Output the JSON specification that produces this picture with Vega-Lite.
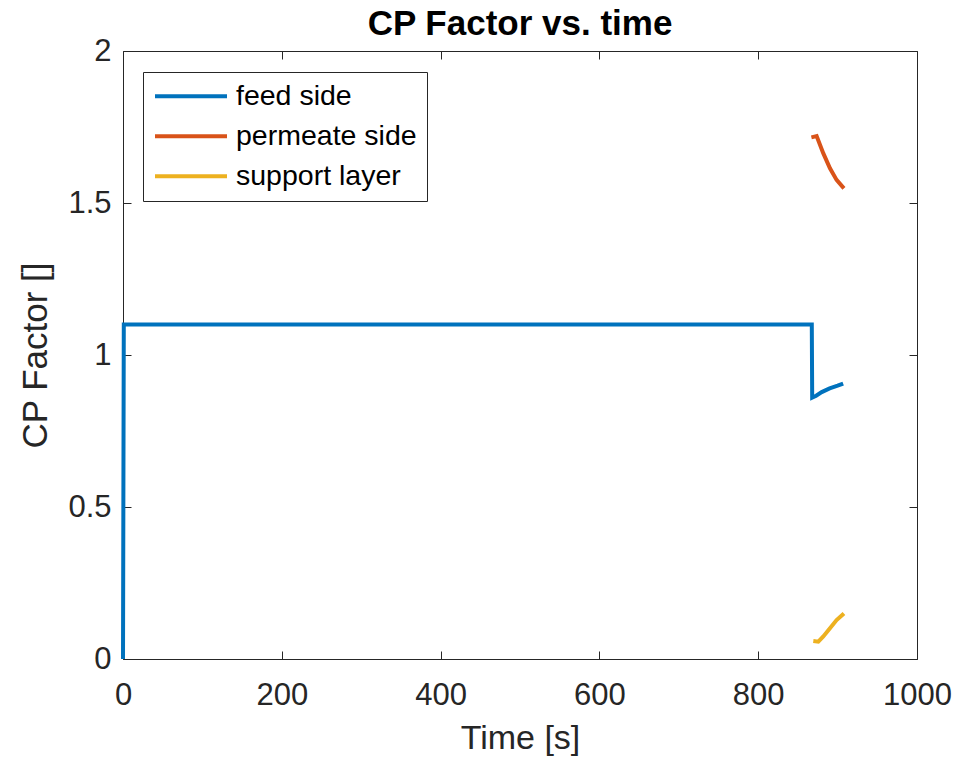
{
  "$schema": "https://vega.github.io/schema/vega-lite/v6.json",
  "width": 794,
  "height": 608,
  "autosize": {"type": "none"},
  "padding": {"left": 123, "top": 51, "right": 45, "bottom": 105},
  "background": "white",
  "title": {"text": "CP Factor vs. time", "font": "Liberation Sans", "fontSize": 35, "fontWeight": "bold", "color": "#000000", "offset": -7, "anchor": "middle"},
  "config": {
    "view": {"stroke": null},
    "font": "Liberation Sans"
  },
  "data": {
    "values": [
      {"series": "feed side", "t": 0, "v": 0, "o": 1},
      {"series": "feed side", "t": 1, "v": 1.1, "o": 2},
      {"series": "feed side", "t": 867.5, "v": 1.1, "o": 3},
      {"series": "feed side", "t": 868, "v": 0.86, "o": 4},
      {"series": "feed side", "t": 873, "v": 0.866, "o": 5},
      {"series": "feed side", "t": 880, "v": 0.878, "o": 6},
      {"series": "feed side", "t": 890, "v": 0.89, "o": 7},
      {"series": "feed side", "t": 900, "v": 0.899, "o": 8},
      {"series": "feed side", "t": 907, "v": 0.906, "o": 9},
      {"series": "permeate side", "t": 867, "v": 1.716, "o": 1},
      {"series": "permeate side", "t": 873.6, "v": 1.72, "o": 2},
      {"series": "permeate side", "t": 881.9, "v": 1.664, "o": 3},
      {"series": "permeate side", "t": 890.4, "v": 1.614, "o": 4},
      {"series": "permeate side", "t": 898.7, "v": 1.576, "o": 5},
      {"series": "permeate side", "t": 908, "v": 1.548, "o": 6},
      {"series": "support layer", "t": 869.4, "v": 0.059, "o": 1},
      {"series": "support layer", "t": 875.7, "v": 0.057, "o": 2},
      {"series": "support layer", "t": 882, "v": 0.074, "o": 3},
      {"series": "support layer", "t": 890.4, "v": 0.101, "o": 4},
      {"series": "support layer", "t": 898.7, "v": 0.128, "o": 5},
      {"series": "support layer", "t": 908, "v": 0.15, "o": 6}
    ]
  },
  "resolve": {"axis": {"x": "independent", "y": "independent"}},
  "layer": [
    {
      "mark": {"type": "line", "strokeWidth": 4, "strokeJoin": "miter", "clip": false},
      "encoding": {
        "x": {"field": "t", "type": "quantitative", "scale": {"domain": [0, 1000], "nice": false, "zero": false},
          "axis": {"orient": "bottom", "values": [0, 200, 400, 600, 800, 1000], "format": "d", "title": "Time [s]", "grid": false,
            "domainColor": "#262626", "tickColor": "#262626", "tickSize": -8, "labelPadding": 29,
            "labelFontSize": 31, "labelColor": "#262626", "labelFont": "Liberation Sans", "labelFlush": false,
            "titleFontSize": 34, "titleFontWeight": "normal", "titleColor": "#262626", "titleFont": "Liberation Sans", "titlePadding": 11}},
        "y": {"field": "v", "type": "quantitative", "scale": {"domain": [0, 2], "nice": false, "zero": false},
          "axis": {"orient": "left", "values": [0, 0.5, 1, 1.5, 2], "format": "~g", "title": "CP Factor []", "grid": false,
            "domainColor": "#262626", "tickColor": "#262626", "tickSize": -8, "labelPadding": 20,
            "labelFontSize": 31, "labelColor": "#262626", "labelFont": "Liberation Sans", "labelFlush": false,
            "titleFontSize": 35, "titleFontWeight": "normal", "titleColor": "#262626", "titleFont": "Liberation Sans", "titlePadding": 14}},
        "color": {"field": "series", "type": "nominal",
          "scale": {"domain": ["feed side", "permeate side", "support layer"], "range": ["#0072BD", "#D95319", "#EDB120"]},
          "legend": {"title": null, "orient": "none", "legendX": 20, "legendY": 21, "symbolType": "stroke", "symbolSize": 5184,
            "symbolStrokeWidth": 4, "labelFontSize": 28.5, "labelFont": "Liberation Sans", "labelColor": "#000000", "labelLimit": 400,
            "clipHeight": 28.5, "labelOffset": 7, "padding": 10, "rowPadding": 11, "strokeColor": "#262626", "fillColor": "white"}},
        "order": {"field": "o", "type": "quantitative"}
      }
    },
    {
      "mark": {"type": "rule", "opacity": 0},
      "encoding": {
        "x": {"field": "t", "type": "quantitative", "axis": {"orient": "top", "values": [0, 200, 400, 600, 800, 1000], "labels": false, "title": null, "grid": false, "domainColor": "#262626", "tickColor": "#262626", "tickSize": -8}},
        "y": {"field": "v", "type": "quantitative", "axis": {"orient": "right", "values": [0, 0.5, 1, 1.5, 2], "labels": false, "title": null, "grid": false, "domainColor": "#262626", "tickColor": "#262626", "tickSize": -8}}
      }
    }
  ]
}
